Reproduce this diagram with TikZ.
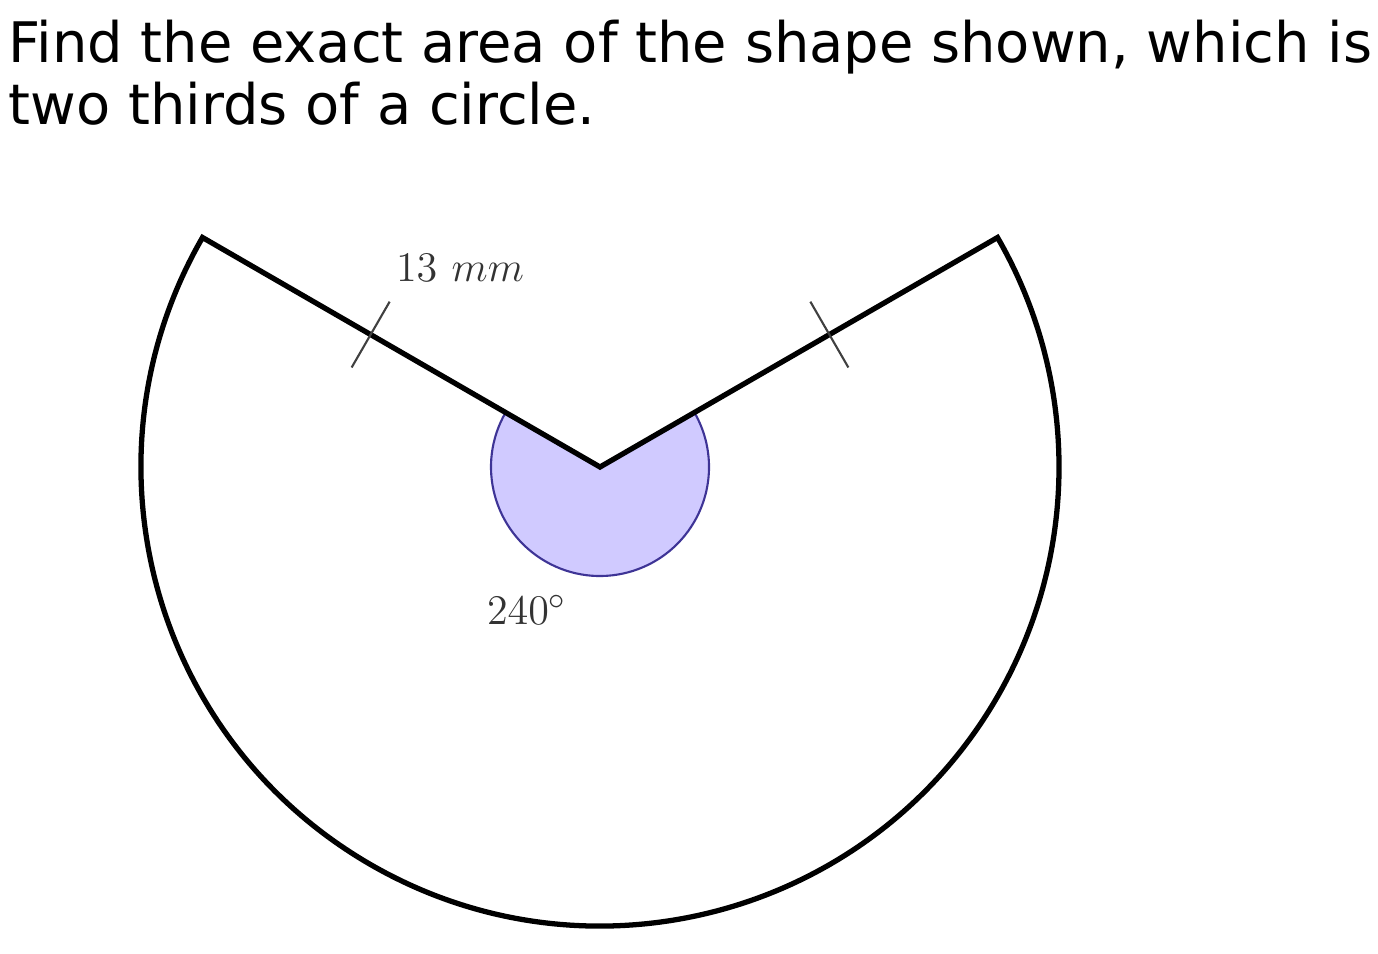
\documentclass[tikz,border=0pt]{standalone}
\usepackage{fontspec}
\newfontfamily\questionfont{DejaVu Sans}
\usetikzlibrary{calc}
\definecolor{anglefill}{RGB}{208,202,255}
\definecolor{angleline}{RGB}{62,52,150}
\tikzset{
  question/.style={anchor=base west, inner sep=0pt, font=\questionfont\fontsize{15.9}{17.6}\selectfont},
  measure/.style={text=black!80, font=\fontsize{12.5}{14}\selectfont},
  tickmark/.style={black!75, line width=0.6pt}
}
\begin{document}
\begin{tikzpicture}
    \useasboundingbox (0,0) rectangle (13.78,-9.53);

    % Question
    \node[question] (line1) at (0.08,-0.63) {Find the exact area of the shape shown, which is};
    \node[question] (line2) at (0.08,-1.25) {two thirds of a circle.};

    % Centre and ends of the radii
    \coordinate (O) at (6.00,-4.67);
    \coordinate (A) at ($(O)+(150:4.59)$);
    \coordinate (B) at ($(O)+(30:4.59)$);

    % Angle
    \filldraw[fill=anglefill, draw=angleline, line width=0.6pt]
        (O) -- ($(O)+(150:1.09)$) arc (150:390:1.09) -- cycle;

    % Shape
    \draw[line width=1.5pt, line join=miter] (O) -- (A) arc (150:390:4.59) -- cycle;

    % Equal length marks
    \coordinate (tA) at ($(O)!0.577!(A)$);
    \coordinate (tB) at ($(O)!0.577!(B)$);
    \draw[tickmark] ($(tA)+(60:0.38)$) -- ($(tA)+(240:0.38)$);
    \draw[tickmark] ($(tB)+(120:0.38)$) -- ($(tB)+(300:0.38)$);

    % Labels
    \node[measure] (radius) at (4.60,-2.68) {$13\ mm$};
    \node[measure] (angle) at (5.27,-6.10) {$240^\circ$};
\end{tikzpicture}
\end{document}
